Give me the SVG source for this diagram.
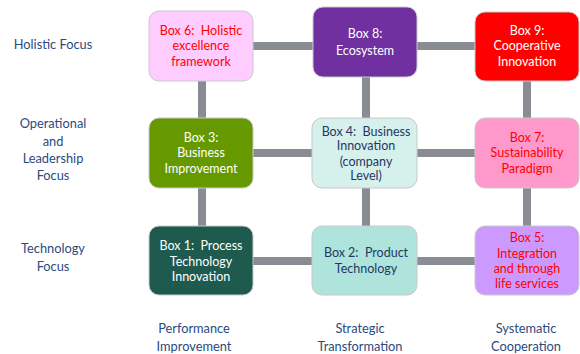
<svg xmlns="http://www.w3.org/2000/svg" width="580" height="354" viewBox="0 0 580 354">
<style>
text{font-family:Lato,"Liberation Sans",sans-serif;font-size:12.5px;text-anchor:middle;white-space:pre}
.lbl{fill:#2b4a80;font-size:12.8px}
.w{fill:#ffffff}
.r{fill:#ff0000}
.b{fill:#1f3864}
.box{stroke:#c8c8cc;stroke-width:1}
.con{stroke:#8a8c94;stroke-width:8;fill:none}
</style>
<rect width="580" height="354" fill="#ffffff"/>
<g id="connectors">
<line class="con" x1="253" y1="46" x2="313" y2="46"/>
<line class="con" x1="417" y1="46" x2="475" y2="46"/>
<line class="con" x1="253" y1="153" x2="312" y2="153"/>
<line class="con" x1="417" y1="153" x2="475" y2="153"/>
<line class="con" x1="253" y1="261" x2="312" y2="261"/>
<line class="con" x1="417" y1="261" x2="475" y2="261"/>
<line class="con" x1="202" y1="81" x2="202" y2="118"/>
<line class="con" x1="202" y1="188" x2="202" y2="226"/>
<line class="con" x1="366" y1="77" x2="366" y2="118"/>
<line class="con" x1="366" y1="188" x2="366" y2="226"/>
<line class="con" x1="527" y1="81" x2="527" y2="118"/>
<line class="con" x1="527" y1="188" x2="527" y2="226"/>
</g>
<g id="box6"><rect class="box" x="149" y="11" width="104" height="70" rx="10" fill="#ffccff"/>
<text class="r" x="201" y="35" xml:space="preserve">Box 6:  Holistic</text><text class="r" x="201" y="50">excellence</text><text class="r" x="201" y="66">framework</text></g>
<g id="box8"><rect class="box" x="313" y="7" width="104" height="70" rx="10" fill="#7030a0"/>
<text class="w" x="365" y="38">Box 8:</text><text class="w" x="365" y="55">Ecosystem</text></g>
<g id="box9"><rect class="box" x="475" y="12" width="104" height="69" rx="10" fill="#ff0000"/>
<text class="w" x="527" y="35">Box 9:</text><text class="w" x="527" y="50">Cooperative</text><text class="w" x="527" y="66">Innovation</text></g>
<g id="box3"><rect class="box" x="149" y="118" width="104" height="70" rx="10" fill="#669900"/>
<text class="w" x="201" y="142">Box 3:</text><text class="w" x="201" y="157">Business</text><text class="w" x="201" y="173">Improvement</text></g>
<g id="box4"><rect class="box" x="312" y="118" width="105" height="70" rx="10" fill="#d6f0ec"/>
<text class="b" x="366" y="136" xml:space="preserve">Box 4:  Business</text><text class="b" x="366" y="150">Innovation</text><text class="b" x="366" y="166">(company</text><text class="b" x="366" y="180">Level)</text></g>
<g id="box7"><rect class="box" x="475" y="118" width="104" height="70" rx="10" fill="#ff99cc"/>
<text class="r" x="527" y="142">Box 7:</text><text class="r" x="527" y="157">Sustainability</text><text class="r" x="527" y="173">Paradigm</text></g>
<g id="box1"><rect class="box" x="149" y="226" width="104" height="69" rx="10" fill="#1e5a4e"/>
<text class="w" x="201" y="250" xml:space="preserve">Box 1:  Process</text><text class="w" x="201" y="266">Technology</text><text class="w" x="201" y="281">Innovation</text></g>
<g id="box2"><rect class="box" x="312" y="226" width="105" height="69" rx="10" fill="#aee4dc"/>
<text class="b" x="366" y="257" xml:space="preserve">Box 2:  Product</text><text class="b" x="366" y="273">Technology</text></g>
<g id="box5"><rect class="box" x="475" y="226" width="104" height="69" rx="10" fill="#cc99ff"/>
<text class="r" x="527" y="242">Box 5:</text><text class="r" x="527" y="258">Integration</text><text class="r" x="527" y="273">and through</text><text class="r" x="527" y="288">life services</text></g>
<g id="row-labels">
<text class="lbl" x="53" y="49">Holistic Focus</text>
<text class="lbl" x="53" y="128">Operational</text><text class="lbl" x="53" y="146">and</text><text class="lbl" x="53" y="163">Leadership</text><text class="lbl" x="53" y="180">Focus</text>
<text class="lbl" x="53" y="253">Technology</text><text class="lbl" x="53" y="271">Focus</text>
</g>
<g id="col-labels">
<text class="lbl" x="194" y="333">Performance</text><text class="lbl" x="194" y="351">Improvement</text>
<text class="lbl" x="360" y="333">Strategic</text><text class="lbl" x="360" y="351">Transformation</text>
<text class="lbl" x="526" y="333">Systematic</text><text class="lbl" x="526" y="351">Cooperation</text>
</g>
</svg>
